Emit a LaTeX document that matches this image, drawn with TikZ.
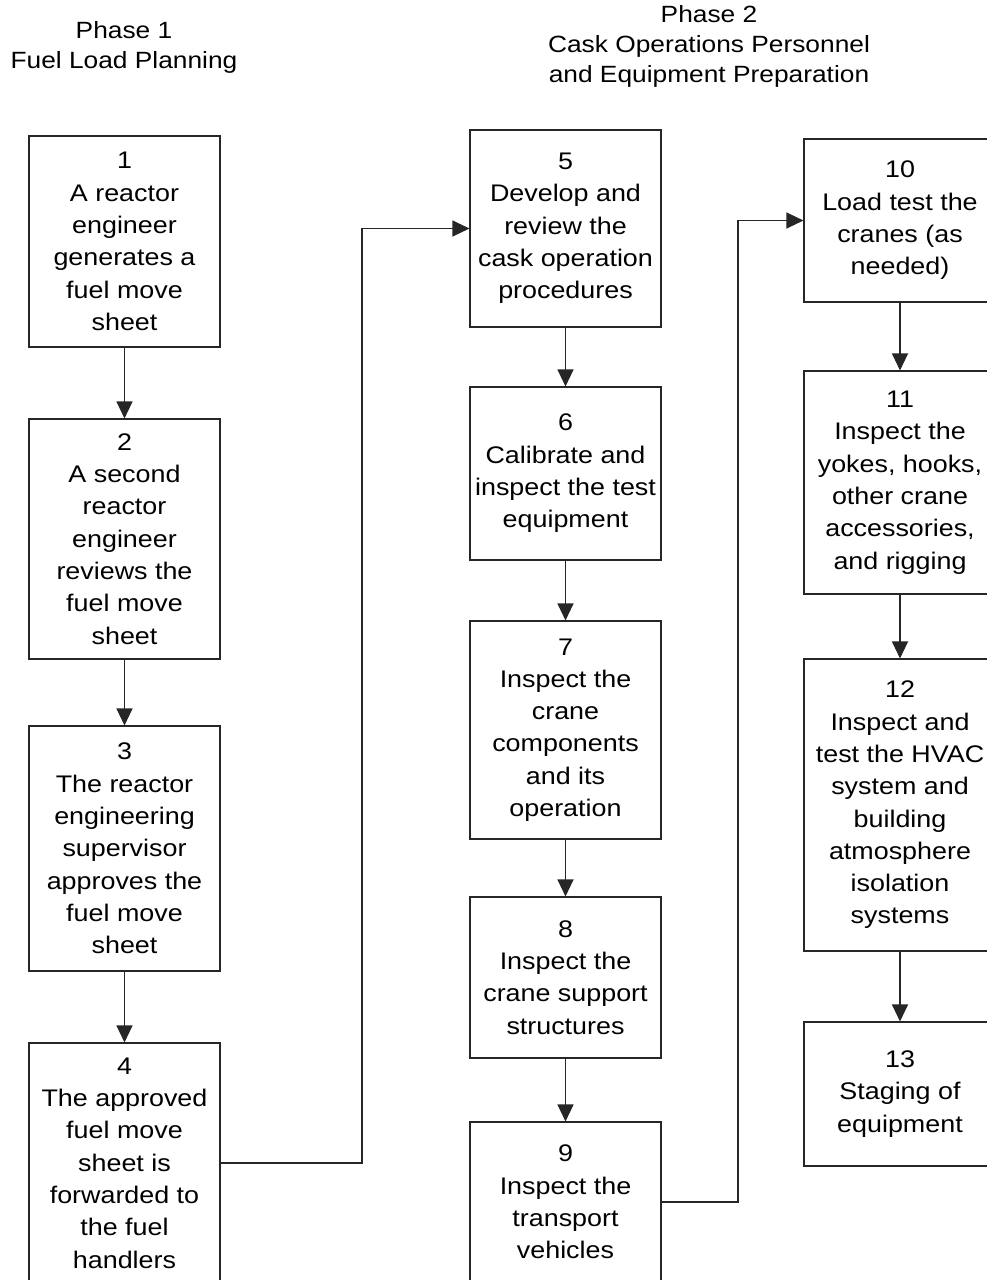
\documentclass[tikz,border=0pt]{standalone}
\usepackage{fontspec}
\setmainfont{Liberation Sans}[FakeStretch=1.12]
\usetikzlibrary{arrows.meta}
\begin{document}
\begin{tikzpicture}[x=1pt,y=-1pt,
  stepbox/.style={draw=black!85, line width=1.1pt, rectangle, minimum width=191pt,
    align=center, inner sep=0pt, font=\fontsize{24}{32.3}\selectfont},
  flow/.style={draw=black!85, line width=1.1pt, -{Triangle[width=16pt,length=17pt]}},
  phase/.style={align=center, font=\fontsize{23.5}{30}\selectfont}]
\clip (0,0) rectangle (987,1280);
\fill[white] (0,0) rectangle (987,1280);

% phase headings
\node[phase] (p1) at (124,47) {Phase 1\\Fuel Load Planning};
\node[phase] (p2) at (709,46) {Phase 2\\Cask Operations Personnel\\and Equipment Preparation};

% phase 1 column
\node[stepbox, minimum height=211pt] (b1) at (124.5,241.5) {1\\A reactor\\engineer\\generates a\\fuel move\\sheet};
\node[stepbox, minimum height=240pt] (b2) at (124.5,539) {2\\A second\\reactor\\engineer\\reviews the\\fuel move\\sheet};
\node[stepbox, minimum height=245pt] (b3) at (124.5,848.5) {3\\The reactor\\engineering\\supervisor\\approves the\\fuel move\\sheet};
\node[stepbox, minimum height=240pt] (b4) at (124.5,1163) {4\\The approved\\fuel move\\sheet is\\forwarded to\\the fuel\\handlers};

% phase 2, first column
\node[stepbox, minimum height=197pt] (b5) at (565.5,228.5) {5\\Develop and\\review the\\cask operation\\procedures};
\node[stepbox, minimum height=173pt] (b6) at (565.5,473.5) {6\\Calibrate and\\inspect the test\\equipment};
\node[stepbox, minimum height=218pt] (b7) at (565.5,730) {7\\Inspect the\\crane\\components\\and its\\operation};
\node[stepbox, minimum height=161pt] (b8) at (565.5,977.5) {8\\Inspect the\\crane support\\structures};
\node[stepbox, minimum height=160pt] (b9) at (565.5,1202) {9\\Inspect the\\transport\\vehicles};

% phase 2, second column
\node[stepbox, minimum width=192pt, minimum height=163pt] (b10) at (900,220.5) {10\\Load test the\\cranes (as\\needed)};
\node[stepbox, minimum width=192pt, minimum height=223pt] (b11) at (900,482.5) {11\\Inspect the\\yokes, hooks,\\other crane\\accessories,\\and rigging};
\node[stepbox, minimum width=192pt, minimum height=292pt] (b12) at (900,805) {12\\Inspect and\\test the HVAC\\system and\\building\\atmosphere\\isolation\\systems};
\node[stepbox, minimum width=192pt, minimum height=144pt] (b13) at (900,1094) {13\\Staging of\\equipment};

% connectors
\draw[flow] (b1.south) -- (b2.north);
\draw[flow] (b2.south) -- (b3.north);
\draw[flow] (b3.south) -- (b4.north);
\coordinate (j1) at (362,1163);
\draw[flow] (b4.east) -- (j1) |- (b5.west);
\draw[flow] (b5.south) -- (b6.north);
\draw[flow] (b6.south) -- (b7.north);
\draw[flow] (b7.south) -- (b8.north);
\draw[flow] (b8.south) -- (b9.north);
\coordinate (j2) at (738,1202);
\draw[flow] (b9.east) -- (j2) |- (b10.west);
\draw[flow] (b10.south) -- (b11.north);
\draw[flow] (b11.south) -- (b12.north);
\draw[flow] (b12.south) -- (b13.north);
\end{tikzpicture}
\end{document}
